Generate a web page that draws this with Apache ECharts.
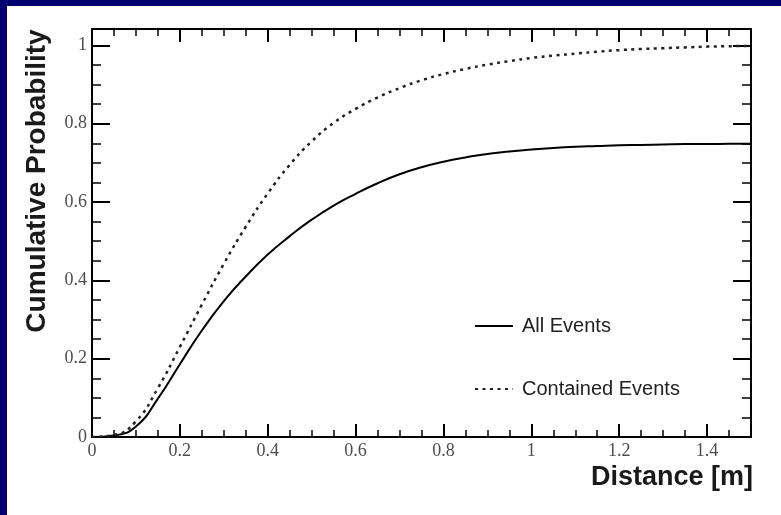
<!DOCTYPE html>
<html>
<head>
<meta charset="utf-8">
<script src="https://cdn.jsdelivr.net/npm/echarts@6/dist/echarts.min.js"></script>
<style>
  html, body { margin: 0; padding: 0; background: #000070; }
  #myChart { position: absolute; left: 7px; top: 6px; width: 774px; height: 509px; background: #fff; }
</style>
</head>
<body>
<div id="myChart"></div>
<script>
// distance [m], sampled every 0.05
var distance = [0, 0.05, 0.1, 0.15, 0.2, 0.25, 0.3, 0.35, 0.4, 0.45, 0.5, 0.55, 0.6, 0.65, 0.7, 0.75,
  0.8, 0.85, 0.9, 0.95, 1.0, 1.05, 1.1, 1.15, 1.2, 1.25, 1.3, 1.35, 1.4, 1.45, 1.5]
var allEvents = [0, 0.004, 0.027, 0.098, 0.186, 0.272, 0.347, 0.41, 0.466, 0.513, 0.555, 0.591, 0.621, 0.648, 0.671, 0.689,
  0.703, 0.714, 0.723, 0.729, 0.734, 0.738, 0.741, 0.743, 0.745, 0.746, 0.747, 0.748, 0.748, 0.749, 0.749]
var containedEvents = [0, 0.005, 0.04, 0.125, 0.23, 0.338, 0.442, 0.537, 0.622, 0.695, 0.755, 0.802, 0.838, 0.867, 0.891, 0.911,
  0.927, 0.94, 0.951, 0.96, 0.968, 0.974, 0.979, 0.984, 0.988, 0.991, 0.993, 0.995, 0.997, 0.998, 0.999]
var seriesNames = ['All Events', 'Contained Events']

var X_MAX = 1.5
var Y_MAX = 1.042

function pairs(xs, ys) {
  return xs.map(function (x, i) { return [x, ys[i]] })
}

var axisLine = { show: true, onZero: false, lineStyle: { color: '#000', width: 2 } }
var labelStyle = { fontFamily: 'Liberation Serif', fontSize: 18, color: '#4d4d4d', margin: 5 }

// major + minor axes, mirrored on both sides of the frame
function xAxis(position, major, labels) {
  return {
    type: 'value', gridIndex: 0, position: position, min: 0, max: X_MAX,
    interval: major ? 0.2 : 0.05,
    axisLine: axisLine,
    axisTick: { show: true, inside: true, length: major ? 13 : 7, lineStyle: { color: '#000', width: major ? 2 : 1.5 } },
    axisLabel: Object.assign({ show: labels, showMaxLabel: false }, labelStyle),
    splitLine: { show: false }
  }
}
function yAxis(position, major, labels) {
  return {
    type: 'value', gridIndex: 0, position: position, min: 0, max: Y_MAX,
    interval: major ? 0.2 : 0.05,
    axisLine: axisLine,
    axisTick: { show: true, inside: true, length: major ? 18 : 9, lineStyle: { color: '#000', width: major ? 2 : 1.5 } },
    axisLabel: Object.assign({ show: labels, showMaxLabel: false }, labelStyle),
    splitLine: { show: false }
  }
}

var chart = echarts.init(document.getElementById('myChart'), null, { renderer: 'canvas' })
chart.setOption({
  animation: false,
  grid: { left: 85, right: 30, top: 23, bottom: 78, containLabel: false, outerBoundsMode: 'none' },
  xAxis: [xAxis('bottom', true, true), xAxis('bottom', false, false), xAxis('top', true, false), xAxis('top', false, false)],
  yAxis: [yAxis('left', true, true), yAxis('left', false, false), yAxis('right', true, false), yAxis('right', false, false)],
  legend: {
    data: seriesNames,
    orient: 'vertical',
    left: 462,
    top: 305,
    itemWidth: 38,
    itemHeight: 14,
    itemGap: 43,
    itemStyle: { opacity: 0 },
    textStyle: { fontFamily: 'Liberation Sans', fontSize: 20, color: '#222', padding: [0, 0, 0, 4] }
  },
  title: {
    text: 'Distance [m]',
    right: 28,
    top: 458,
    padding: 0,
    textStyle: { fontFamily: 'Liberation Sans', fontSize: 27, fontWeight: 'bold', color: '#1a1a1a' }
  },
  graphic: [{
    type: 'text',
    x: 30,
    y: 175,
    rotation: Math.PI / 2,
    style: {
      text: 'Cumulative Probability',
      font: 'bold 28px "Liberation Sans"',
      fill: '#1a1a1a',
      align: 'center',
      verticalAlign: 'middle'
    }
  }],
  series: [{
    name: seriesNames[0],
    type: 'line',
    xAxisIndex: 0,
    yAxisIndex: 0,
    data: pairs(distance, allEvents),
    smooth: 0.5,
    symbol: 'none',
    itemStyle: { color: '#000' },
    lineStyle: { color: '#000', width: 2 }
  }, {
    name: seriesNames[1],
    type: 'line',
    xAxisIndex: 0,
    yAxisIndex: 0,
    data: pairs(distance, containedEvents),
    smooth: 0.5,
    symbol: 'none',
    itemStyle: { color: '#000' },
    lineStyle: { color: '#222', width: 2.5, type: [3, 4.5] }
  }]
})
</script>
</body>
</html>
